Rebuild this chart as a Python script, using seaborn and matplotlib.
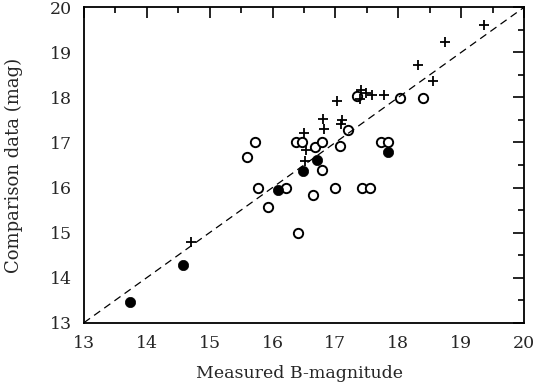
import numpy as np
import pandas as pd
import matplotlib
matplotlib.use("Agg")
import matplotlib.pyplot as plt
import seaborn as sns
from matplotlib.ticker import MultipleLocator

# filled circles
filled_x = [13.73, 14.58, 16.09, 16.48, 16.70, 17.83]
filled_y = [13.47, 14.29, 15.94, 16.36, 16.61, 16.79]

# open circles
open_x = [15.72, 15.60, 16.37, 16.47, 16.68, 16.79, 17.07, 16.78, 15.77, 16.21,
          16.64, 16.99, 15.93, 16.41, 17.20, 17.72, 17.84, 17.42, 17.55, 17.34,
          18.02, 18.40]
open_y = [17.00, 16.68, 17.00, 17.00, 16.90, 17.00, 16.92, 16.40, 15.98, 15.98,
          15.84, 15.98, 15.57, 14.98, 17.28, 17.00, 17.00, 15.98, 15.98, 18.04,
          17.98, 17.98]

# plus signs
plus_x = [19.36, 18.75, 18.31, 18.56, 17.02, 17.41, 17.39, 17.49, 17.58, 17.78,
          17.10, 17.09, 16.81, 16.82, 16.50, 16.53, 16.51, 14.71]
plus_y = [19.61, 19.23, 18.72, 18.37, 17.92, 18.16, 17.96, 18.09, 18.06, 18.06,
          17.49, 17.42, 17.53, 17.31, 17.20, 16.83, 16.59, 14.80]

sns.set_style("white")
plt.rcParams['font.family'] = ['DejaVu Serif']

fig = plt.figure(figsize=(5.38, 3.86), dpi=100)
ax = fig.add_axes([0.156, 0.164, 0.818, 0.817])

line_df = pd.DataFrame({"x": [13, 20], "y": [13, 20]})
sns.lineplot(data=line_df, x="x", y="y", ax=ax, color="black", lw=0.9,
             linestyle=(0, (6, 4)))

sns.scatterplot(x=open_x, y=open_y, ax=ax, marker="o", s=45,
                facecolor="white", edgecolor="black", linewidth=1.4)
sns.scatterplot(x=filled_x, y=filled_y, ax=ax, marker="o", s=55,
                color="black", edgecolor="black", linewidth=0.5)
sns.scatterplot(x=plus_x, y=plus_y, ax=ax, marker="+", s=45,
                color="black", linewidth=1.3)

ax.set_xlim(13, 20)
ax.set_ylim(13, 20)
ax.xaxis.set_major_locator(MultipleLocator(1))
ax.yaxis.set_major_locator(MultipleLocator(1))
ax.xaxis.set_minor_locator(MultipleLocator(0.5))
ax.yaxis.set_minor_locator(MultipleLocator(0.5))
ax.tick_params(which="both", direction="in", top=True, right=True,
               color="black", width=1.2)
ax.tick_params(which="major", length=8, labelsize=12.5)
ax.tick_params(axis="x", which="major", pad=9)
ax.tick_params(axis="y", which="major", pad=8.5)
ax.tick_params(which="minor", length=4)
for sp in ax.spines.values():
    sp.set_color("black")
    sp.set_linewidth(1.3)

ax.set_xlabel("Measured B-magnitude", fontsize=12.5)
ax.set_ylabel("Comparison data (mag)", fontsize=13)
ax.xaxis.set_label_coords(0.49, -0.135)
ax.yaxis.set_label_coords(-0.139, 0.5)

fig.savefig("out.png", dpi=100)
